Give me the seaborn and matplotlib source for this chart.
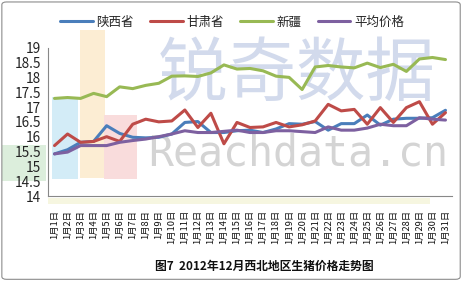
import numpy as np
import pandas as pd
import matplotlib
matplotlib.use("Agg")
import matplotlib.pyplot as plt
from matplotlib.patches import Rectangle, FancyBboxPatch
from matplotlib.lines import Line2D
import seaborn as sns

days = [f"1月{d}日" for d in range(1, 32)]
series_names = ["陕西省", "甘肃省", "新疆", "平均价格"]
shaanxi = [15.42, 15.56, 15.81, 15.84, 16.37, 16.11, 15.98, 15.96, 15.98, 16.09,
           16.48, 16.51, 16.14, 16.14, 16.20, 16.22, 16.14, 16.26, 16.44, 16.42,
           16.51, 16.22, 16.44, 16.44, 16.73, 16.39, 16.59, 16.62, 16.62, 16.64, 16.89]
gansu = [15.70, 16.09, 15.81, 15.84, 16.00, 15.84, 16.42, 16.59, 16.50, 16.53,
         16.90, 16.31, 16.79, 15.76, 16.48, 16.31, 16.33, 16.48, 16.33, 16.40,
         16.53, 17.09, 16.87, 16.92, 16.42, 16.98, 16.48, 16.98, 17.18, 16.42, 16.81]
xinjiang = [17.29, 17.32, 17.29, 17.46, 17.35, 17.68, 17.62, 17.73, 17.80, 18.04,
            18.05, 18.03, 18.15, 18.42, 18.28, 18.30, 18.22, 18.04, 18.00, 17.59,
            18.35, 18.40, 18.35, 18.32, 18.48, 18.33, 18.44, 18.20, 18.62, 18.67, 18.60]
average = [15.42, 15.48, 15.70, 15.70, 15.70, 15.81, 15.87, 15.92, 16.00, 16.09,
           16.20, 16.14, 16.14, 16.18, 16.22, 16.14, 16.14, 16.20, 16.20, 16.17,
           16.14, 16.33, 16.22, 16.22, 16.29, 16.42, 16.37, 16.37, 16.64, 16.59, 16.56]
yticks = [14, 14.5, 15, 15.5, 16, 16.5, 17, 17.5, 18, 18.5, 19]
title = "图7  2012年12月西北地区生猪价格走势图"

colors = ["#4A7EBB", "#BE4B48", "#98B954", "#7D60A0"]

rows = []
for name, vals in zip(series_names, [shaanxi, gansu, xinjiang, average]):
    for i, v in enumerate(vals):
        rows.append({"idx": i, "day": days[i], "series": name, "price": v})
df = pd.DataFrame(rows)

sns.set_style("white")
plt.rcParams["font.family"] = ["Noto Sans CJK SC", "DejaVu Sans"]

W, H = 463, 281
fig = plt.figure(figsize=(W / 100, H / 100), dpi=100)
fig.patch.set_facecolor("white")
border = FancyBboxPatch((0.004, 0.006), 0.99, 0.987, boxstyle="round,pad=0,rounding_size=0.01",
                        transform=fig.transFigure, fill=False, edgecolor="#8C8C8C", linewidth=0.8,
                        zorder=5)
fig.patches.append(border)

ax = fig.add_axes([48 / W, (H - 196) / H, 404 / W, (196 - 47.7) / H])
ax.set_facecolor("none")
ax.set_zorder(3)

# faint watermark decorations (behind the chart)
for (x0, y0, w, h, c) in [(2, 145, 44, 36, "#DCEEDC"), (52, 97, 26, 82, "#D3ECF7"),
                          (80, 30, 25, 148, "#FCEDD3"), (104, 115, 33, 64, "#F9DCDC"),
                          (48, 198, 382, 6, "#F6F6E0")]:
    fig.patches.append(Rectangle((x0 / W, (H - y0 - h) / H), w / W, h / H,
                                 transform=fig.transFigure, facecolor=c, edgecolor="none",
                                 zorder=0))
fig.text(297 / W, (H - 75) / H, "锐奇数据", fontsize=50, color="#D2DAEC", ha="center",
         va="center", zorder=0.5)
fig.text(298 / W, (H - 153) / H, "Reachdata.cn", fontsize=30, color="#D4D4D4", ha="center",
         va="center", zorder=0.5, family="DejaVu Sans Mono")

sns.lineplot(data=df, x="idx", y="price", hue="series", hue_order=series_names,
             palette=colors, linewidth=2.2, ax=ax, legend=False, sort=False)

ax.set_xlim(-0.5, 30.5)
ax.set_ylim(14, 19)
ax.set_yticks(yticks)
ax.set_yticklabels([f"{t:g}" for t in yticks], fontsize=9.8, color="#222222")
ax.set_xticks(range(len(days)))
ax.set_xticklabels(days, rotation=90, fontsize=6.7, color="#111111")
ax.set_xticks(np.arange(-0.5, 31, 1), minor=True)
ax.tick_params(axis="x", which="major", length=0, pad=10)
ax.tick_params(axis="x", which="minor", direction="in", length=4, color="#888888", width=0.8)
ax.tick_params(axis="y", direction="out", length=3, color="#888888", width=0.8, pad=2)
for s in ["top", "right"]:
    ax.spines[s].set_visible(False)
for s in ["left", "bottom"]:
    ax.spines[s].set_color("#888888")
    ax.spines[s].set_linewidth(0.8)
ax.set_xlabel("")
ax.set_ylabel("")

handles = [Line2D([0], [0], color=c, lw=2.2) for c in colors]
fig.legend(handles, series_names, loc="center", bbox_to_anchor=(232 / W, (H - 22) / H),
           ncol=4, frameon=False, fontsize=9, handlelength=2.6, handletextpad=0.3,
           columnspacing=1.3)

fig.text(264 / W, (H - 266) / H, title, fontsize=8.5, fontweight="bold", ha="center",
         va="center", color="#111111")

fig.savefig("out.png", dpi=100)
